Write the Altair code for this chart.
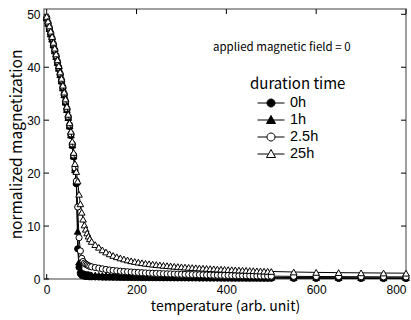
import math
import altair as alt
import pandas as pd

# ---------------- data ----------------
series_names = ["0h", "1h", "2.5h", "25h"]

temperature = [0, 3, 6, 9, 12, 15, 18, 21, 24, 27, 30, 33, 36, 39, 42, 45, 48, 51, 54, 57, 60,
               63, 66, 69, 72, 75, 78, 81, 84, 87, 90, 93, 96,
               100, 108, 116, 124, 132, 140, 148, 156, 164, 172, 180, 188, 196, 204, 212, 220,
               228, 236, 244, 252, 260, 268, 276, 284, 292, 300, 308, 316, 324, 332, 340, 348,
               356, 364, 372, 380, 388, 396, 404, 412, 420, 428, 436, 444, 452, 460, 468, 476,
               484, 492, 500,
               550, 600, 650, 700, 750, 800]

m_0h = [49.2, 48.2, 47.2, 46.2, 45.2, 44.1, 43.0, 41.9, 40.8, 39.7, 38.5, 37.3, 36.0, 34.7, 33.3,
        31.9, 30.4, 28.8, 27.1, 25.2, 23.1,
        20.5, 18.0, 5.7, 2.2, 1.0, 0.7, 0.6, 0.55, 0.5, 0.47, 0.45, 0.43,
        0.41, 0.39, 0.37, 0.35, 0.34, 0.33, 0.32, 0.31, 0.30, 0.29,
        0.28, 0.27, 0.26, 0.26, 0.25, 0.25, 0.24, 0.24, 0.23, 0.23,
        0.22, 0.22, 0.21, 0.21, 0.20, 0.20, 0.20, 0.19, 0.19, 0.19,
        0.18, 0.18, 0.18, 0.17, 0.17, 0.17, 0.16, 0.16, 0.16, 0.15,
        0.15, 0.15, 0.15, 0.14, 0.14, 0.14, 0.14, 0.13, 0.13, 0.13, 0.13,
        0.12, 0.11, 0.10, 0.10, 0.09, 0.09]

m_1h = [49.3, 48.3, 47.3, 46.3, 45.3, 44.2, 43.1, 42.0, 40.9, 39.8, 38.6, 37.4, 36.1, 34.8, 33.4,
        32.0, 30.5, 28.9, 27.2, 25.3, 23.2,
        20.6, 18.3, 9.0, 3.2, 1.7, 1.3, 1.1, 1.0, 0.95, 0.9, 0.86, 0.82,
        0.78, 0.74, 0.70, 0.67, 0.64, 0.62, 0.60, 0.58, 0.56, 0.54,
        0.52, 0.51, 0.50, 0.49, 0.48, 0.47, 0.46, 0.45, 0.44, 0.43,
        0.42, 0.41, 0.41, 0.40, 0.40, 0.39, 0.39, 0.38, 0.38, 0.37,
        0.37, 0.36, 0.36, 0.35, 0.35, 0.34, 0.34, 0.34, 0.33, 0.33,
        0.33, 0.32, 0.32, 0.32, 0.31, 0.31, 0.31, 0.30, 0.30, 0.30, 0.30,
        0.28, 0.27, 0.26, 0.25, 0.24, 0.23]

m_2_5h = [49.4, 48.4, 47.5, 46.5, 45.5, 44.4, 43.3, 42.2, 41.1, 40.0, 38.8, 37.6, 36.3, 35.0, 33.6,
          32.2, 30.7, 29.1, 27.4, 25.5, 23.4,
          21.0, 18.5, 13.6, 7.8, 5.3, 3.9, 3.3, 3.0, 2.8, 2.65, 2.5, 2.4,
          2.30, 2.17, 2.05, 1.92, 1.80, 1.70, 1.62, 1.55, 1.48, 1.42,
          1.37, 1.32, 1.27, 1.23, 1.19, 1.15, 1.12, 1.09, 1.06, 1.03,
          1.00, 0.98, 0.96, 0.94, 0.92, 0.90, 0.88, 0.86, 0.84, 0.82,
          0.80, 0.78, 0.76, 0.75, 0.73, 0.72, 0.70, 0.69, 0.67, 0.66,
          0.65, 0.63, 0.62, 0.61, 0.60, 0.59, 0.58, 0.57, 0.56, 0.55, 0.54,
          0.50, 0.47, 0.45, 0.43, 0.41, 0.40]

m_25h = [49.6, 48.7, 47.8, 46.8, 45.8, 44.7, 43.6, 42.5, 41.4, 40.3, 39.1, 37.9, 36.6, 35.3, 34.0,
         32.6, 31.1, 29.5, 27.9, 26.0, 23.9,
         21.8, 20.3, 18.5, 16.0, 14.2, 12.6, 11.3, 10.2, 9.4, 8.7, 8.1, 7.6,
         7.10, 6.50, 6.00, 5.50, 5.10, 4.75, 4.45, 4.20, 3.98, 3.78,
         3.60, 3.44, 3.30, 3.18, 3.07, 2.97, 2.88, 2.80, 2.72, 2.65,
         2.58, 2.52, 2.46, 2.40, 2.35, 2.30, 2.25, 2.20, 2.16, 2.12,
         2.08, 2.04, 2.00, 1.96, 1.92, 1.88, 1.85, 1.82, 1.78, 1.75,
         1.72, 1.69, 1.66, 1.63, 1.60, 1.57, 1.54, 1.51, 1.48, 1.45, 1.42,
         1.32, 1.25, 1.20, 1.16, 1.13, 1.10]

x_ticks = [0, 200, 400, 600, 800]
y_ticks = [0, 10, 20, 30, 40, 50]
annotation = "applied magnetic field = 0"
x_title = "temperature (arb. unit)"
y_title = "normalized magnetization"
legend_title = "duration time"

# ---------------- build tables ----------------
values = {"0h": m_0h, "1h": m_1h, "2.5h": m_2_5h, "25h": m_25h}
rows = []
for s in series_names:
    for t, m in zip(temperature, values[s]):
        rows.append({"series": s, "T": t, "M": m})
df = pd.DataFrame(rows)
df_xt = pd.DataFrame({"v": x_ticks})
df_yt = pd.DataFrame({"v": y_ticks})

# ---------------- style ----------------
W, H = 362, 270
XDOM = [-6, 800]
YDOM = [0, 51]
TXT_FONT = "Noto Sans CJK JP"
NUM_FONT = "Liberation Sans"
TICK = 5

shapes = {"0h": "circle", "1h": "triangle-up", "2.5h": "circle", "25h": "triangle-up"}
fills = {"0h": "black", "1h": "black", "2.5h": "white", "25h": "white"}
sizes = {"circle": 38, "triangle-up": 44}

# legend symbols: line + marker (path unit = sqrt(symbolSize)/2 px)
SYM_SIZE = 225
U = math.sqrt(SYM_SIZE) / 2


def circle_path(r_px, L_px):
    r = r_px / U
    L = L_px / U
    n = 20
    pts = [(r * math.cos(2 * math.pi * i / n), r * math.sin(2 * math.pi * i / n)) for i in range(n)]
    p = f"M{-L:.3f},0L{-r:.3f},0M{r:.3f},0L{L:.3f},0"
    p += "M" + "L".join(f"{x:.3f},{y:.3f}" for x, y in pts) + "Z"
    return p


def tri_path(hw_px, top_px, base_px, L_px):
    hw, top, base, L = hw_px / U, top_px / U, base_px / U, L_px / U
    w0 = hw * top / (top + base)
    p = f"M{-L:.3f},0L{-w0:.3f},0M{w0:.3f},0L{L:.3f},0"
    p += f"M0,{-top:.3f}L{hw:.3f},{base:.3f}L{-hw:.3f},{base:.3f}Z"
    return p


legend_paths = [circle_path(4, 13.5), tri_path(4.5, 4.5, 3.5, 13.5),
                circle_path(4, 13.5), tri_path(4.5, 4.5, 3.5, 13.5)]

xs = alt.Scale(domain=XDOM, nice=False, zero=False)
ys = alt.Scale(domain=YDOM, nice=False, zero=False)

X_AXIS = alt.Axis(orient="bottom", values=x_ticks, title=x_title, ticks=False,
                  labelPadding=5, titleY=27, titleBaseline="middle", titleFontSize=14)
Y_AXIS = alt.Axis(orient="left", values=y_ticks, title=y_title, ticks=False,
                  labelPadding=4, titleX=-28, titleBaseline="middle", titleFontSize=15.5)


def X(field):
    return alt.X(f"{field}:Q", scale=xs, axis=X_AXIS, title=x_title)


def Y(field):
    return alt.Y(f"{field}:Q", scale=ys, axis=Y_AXIS, title=y_title)


base = alt.Chart(df)
LEG = alt.Legend(title=legend_title)

# legend carrier (no rows drawn; scales have explicit domains)
carrier = base.transform_filter(alt.datum.T < -1000).mark_point(
    filled=True, strokeWidth=1, opacity=1
).encode(
    x=X("T"), y=Y("M"),
    shape=alt.Shape("series:N", scale=alt.Scale(domain=series_names, range=legend_paths),
                    legend=LEG),
    fill=alt.Fill("series:N", scale=alt.Scale(domain=series_names,
                                              range=[fills[s] for s in series_names]),
                  legend=LEG),
    stroke=alt.Stroke("series:N", scale=alt.Scale(domain=series_names,
                                                  range=["black"] * len(series_names)),
                      legend=LEG),
)

layers = [carrier]

# inward tick marks on all four sides, placed by the shared scales
tick_x = alt.Chart(df_xt)
tick_y = alt.Chart(df_yt)
layers.append(tick_x.mark_rule(color="black", strokeWidth=1).encode(
    x=X("v"), y=alt.value(H), y2=alt.value(H - TICK)))
layers.append(tick_x.mark_rule(color="black", strokeWidth=1).encode(
    x=X("v"), y=alt.value(0), y2=alt.value(TICK)))
layers.append(tick_y.mark_rule(color="black", strokeWidth=1).encode(
    y=Y("v"), x=alt.value(0), x2=alt.value(TICK)))
layers.append(tick_y.mark_rule(color="black", strokeWidth=1).encode(
    y=Y("v"), x=alt.value(W), x2=alt.value(W - TICK)))

for s in series_names:
    sub = base.transform_filter(alt.datum.series == s)
    line = sub.mark_line(color="black", strokeWidth=1).encode(x=X("T"), y=Y("M"))
    pts = sub.mark_point(shape=shapes[s], filled=True, fill=fills[s], stroke="black",
                         strokeWidth=1, opacity=1, size=sizes[shapes[s]]).encode(
        x=X("T"), y=Y("M"))
    layers += [line, pts]

note = alt.Chart(pd.DataFrame({"t": [annotation]})).mark_text(
    align="left", baseline="middle", font=TXT_FONT, fontSize=11.5, color="black"
).encode(x=alt.value(169), y=alt.value(39), text="t:N")
layers.append(note)

chart = alt.layer(*layers).resolve_scale(
    shape="independent", fill="independent", stroke="independent"
).properties(
    width=W, height=H,
    autosize=alt.AutoSizeParams(type="none"),
    padding={"left": 44, "top": 9, "right": 5, "bottom": 41},
).configure_view(
    stroke="#808080", strokeWidth=1.5
).configure_axis(
    grid=False, domain=False,
    labelFont=NUM_FONT, labelFontSize=12, labelColor="black",
    titleFont=TXT_FONT, titleFontWeight="normal", titleColor="black",
).configure_legend(
    orient="none", legendX=206, legendY=68, padding=0,
    titleFont=TXT_FONT, titleFontSize=15, titleFontWeight="normal", titleColor="black",
    labelFont=NUM_FONT, labelFontSize=14.5, labelColor="black",
    symbolSize=SYM_SIZE, symbolStrokeColor="black", symbolStrokeWidth=1,
    symbolOffset=13, labelOffset=11, rowPadding=2, titlePadding=3,
)

chart.save("out.html", embed_options={"renderer": "svg", "actions": False})
